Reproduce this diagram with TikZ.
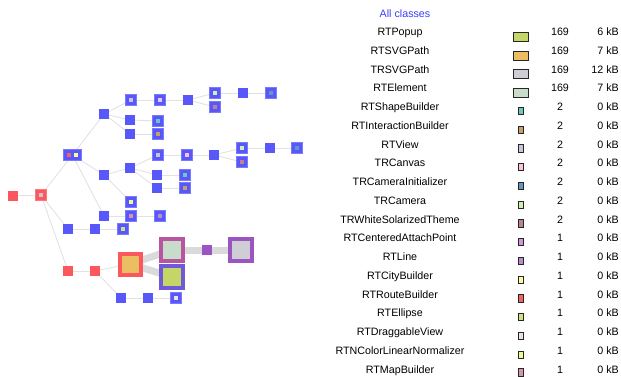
\documentclass[tikz,border=0pt]{standalone}
\usepackage{fontspec}
\setmainfont{Liberation Sans}
\usepackage{tikz}
\usetikzlibrary{backgrounds}
\tikzstyle{cls}=[fill=myblue,minimum size=10pt,inner sep=0pt]
\tikzstyle{rcls}=[cls,fill=myred]
\tikzstyle{big}=[line width=4pt,minimum size=22pt,inner sep=0pt]
\tikzstyle{link}=[draw=mygray,line width=0.9pt]
\tikzstyle{fat}=[draw=mythick,line width=7pt]
\tikzstyle{lbl}=[inner sep=0pt,text height=7.7pt,text depth=0pt,font=\fontsize{10.7}{12}\selectfont]
\tikzstyle{swbig}=[draw=black!85,line width=0.8pt,minimum width=15.5pt,minimum height=9pt,inner sep=0pt]
\tikzstyle{swsmall}=[swbig,minimum width=4.5pt,minimum height=7.5pt]
\tikzset{clsdot/.style={cls,draw=mylight,line width=1pt,minimum size=11pt,
  path picture={\fill[#1] ([shift={(-1.8pt,-1.8pt)}]path picture bounding box.center) rectangle ++(3.6pt,3.6pt);}}}
\definecolor{myblue}{RGB}{88,88,250}
\definecolor{mylight}{RGB}{122,122,252}
\definecolor{myred}{RGB}{250,88,92}
\definecolor{mygray}{RGB}{226,226,226}
\definecolor{mythick}{RGB}{218,218,218}
\definecolor{mytitle}{RGB}{60,60,255}
\definecolor{cPopup}{RGB}{196,214,102}
\definecolor{cRTSVG}{RGB}{236,190,100}
\definecolor{cTRSVG}{RGB}{206,206,212}
\definecolor{cElement}{RGB}{200,220,202}
\definecolor{cShape}{RGB}{110,200,190}
\definecolor{cInter}{RGB}{200,160,105}
\definecolor{cView}{RGB}{205,195,215}
\definecolor{cCanvas}{RGB}{250,195,215}
\definecolor{cInit}{RGB}{100,150,195}
\definecolor{cCam}{RGB}{205,240,180}
\definecolor{cTheme}{RGB}{190,130,145}
\definecolor{cAttach}{RGB}{210,150,220}
\definecolor{cLine}{RGB}{190,140,205}
\definecolor{cCity}{RGB}{250,250,165}
\definecolor{cRoute}{RGB}{240,100,95}
\definecolor{cEllipse}{RGB}{210,222,130}
\definecolor{cDrag}{RGB}{242,222,232}
\definecolor{cNorm}{RGB}{238,250,150}
\definecolor{cMap}{RGB}{210,150,175}
\definecolor{bPink}{RGB}{185,85,160}
\definecolor{bBlue}{RGB}{112,88,215}
\definecolor{bPurple}{RGB}{155,85,195}

\begin{document}
\begin{tikzpicture}[x=1pt,y=-1pt]
\useasboundingbox (0,0) rectangle (621,377);
% tree
\draw (13,196) node [rcls] (r0) {};
\draw (41,195) node [clsdot=cView,fill=myred,draw=myred!80] (r1) {};
\draw (72.5,155) node [cls,draw=mylight,line width=1pt,minimum width=18pt,minimum height=11pt,
  path picture={\fill[cRoute] ([shift={(-5.4pt,-1.8pt)}]path picture bounding box.center) rectangle ++(3.6pt,3.6pt);
                \fill[cCity] ([shift={(1.8pt,-1.8pt)}]path picture bounding box.center) rectangle ++(3.6pt,3.6pt);}] (t0) {};
\draw (104,114) node [cls] (a1) {};
\draw (131,100) node [clsdot=cView] (a2) {};
\draw (130,120) node [cls] (a3) {};
\draw (130,134) node [cls] (a4) {};
\draw (160,100) node [clsdot=cCanvas] (a5) {};
\draw (158,121) node [clsdot=cShape] (a6) {};
\draw (158,134) node [clsdot=cInter] (a7) {};
\draw (188,100) node [cls] (a8) {};
\draw (215,93) node [clsdot=cCam] (a9) {};
\draw (215,107) node [clsdot=cTheme] (a10) {};
\draw (243,93) node [cls] (a11) {};
\draw (271,93) node [clsdot=cInit] (a12) {};
\draw (104,175) node [cls] (b1) {};
\draw (130,168) node [cls] (b2) {};
\draw (131,202) node [clsdot=cNorm] (b3) {};
\draw (158,155) node [clsdot=cView] (b4) {};
\draw (157,175) node [cls] (b5) {};
\draw (157,188) node [cls] (b6) {};
\draw (187,155) node [clsdot=cCanvas] (b7) {};
\draw (185,175) node [clsdot=cShape] (b8) {};
\draw (185,188) node [clsdot=cInter] (b9) {};
\draw (214,155) node [cls] (b10) {};
\draw (242,148) node [clsdot=cCam] (b11) {};
\draw (242,162) node [clsdot=cTheme] (b12) {};
\draw (270,148) node [cls] (b13) {};
\draw (297,148) node [clsdot=cInit] (b14) {};
\draw (104,216) node [cls] (c1) {};
\draw (131,216) node [clsdot=cMap] (c2) {};
\draw (160,216) node [clsdot=cLine] (c3) {};
\draw (68,229) node [cls] (d1) {};
\draw (95,229) node [cls] (d2) {};
\draw (123,229) node [clsdot=cEllipse] (d3) {};
\draw (68,271) node [rcls] (e1) {};
\draw (95,271) node [rcls] (e2) {};
\draw (130,264) node [big,minimum size=21pt,draw=myred,fill=cRTSVG] (e3) {};
\draw (172,250) node [big,draw=bPink,fill=cElement] (e4) {};
\draw (172,277) node [big,draw=bBlue,fill=cPopup] (e5) {};
\draw (207,250) node [cls,fill=bPurple] (e6) {};
\draw (241,250) node [big,draw=bPurple,fill=cTRSVG] (e7) {};
\draw (121,298) node [cls] (f1) {};
\draw (148,298) node [cls] (f2) {};
\draw (176,298) node [clsdot=cDrag] (f3) {};
\begin{pgfonlayer}{background}
\draw[link] (r0) -- (r1);
\draw[link] (r1.center) -- (t0.center);
\draw[link] (r1.center) -- (d1.center);
\draw[link] (r1.center) -- (e1.center);
\draw[link] (t0.center) -- (a1.center);
\draw[link] (t0.center) -- (b1.center);
\draw[link] (t0.center) -- (c1.center);
\draw[link] (a1.center) -- (a2.center);
\draw[link] (a1.center) -- (a3.center);
\draw[link] (a1.center) -- (a4.center);
\draw[link] (a2.center) -- (a5.center);
\draw[link] (a3.center) -- (a6.center);
\draw[link] (a4.center) -- (a7.center);
\draw[link] (a5.center) -- (a8.center);
\draw[link] (a8.center) -- (a9.center);
\draw[link] (a8.center) -- (a10.center);
\draw[link] (a9.center) -- (a11.center);
\draw[link] (a11.center) -- (a12.center);
\draw[link] (b1.center) -- (b2.center);
\draw[link] (b1.center) -- (b3.center);
\draw[link] (b2.center) -- (b4.center);
\draw[link] (b2.center) -- (b5.center);
\draw[link] (b2.center) -- (b6.center);
\draw[link] (b4.center) -- (b7.center);
\draw[link] (b5.center) -- (b8.center);
\draw[link] (b6.center) -- (b9.center);
\draw[link] (b7.center) -- (b10.center);
\draw[link] (b10.center) -- (b11.center);
\draw[link] (b10.center) -- (b12.center);
\draw[link] (b11.center) -- (b13.center);
\draw[link] (b13.center) -- (b14.center);
\draw[link] (c1.center) -- (c2.center);
\draw[link] (c2.center) -- (c3.center);
\draw[link] (d1.center) -- (d2.center);
\draw[link] (d2.center) -- (d3.center);
\draw[link] (e1.center) -- (e2.center);
\draw[link] (e2.center) -- (e3.center);
\draw[link] (e2.center) -- (f1.center);
\draw[link] (f1.center) -- (f2.center);
\draw[link] (f2.center) -- (f3.center);
\draw[fat] (e3.center) -- (e4.center);
\draw[fat] (e3.center) -- (e5.center);
\draw[fat] (e4.center) -- (e6.center);
\draw[fat] (e6.center) -- (e7.center);
\end{pgfonlayer}
% legend
\draw (405,14) node [lbl,text=mytitle] (all) {All classes};
\draw (400,32) node [lbl] (n1) {RTPopup} (521,36.5) node [swbig,fill=cPopup] (s1) {} (560,32) node [lbl] (k1) {169} (619,32) node [lbl,anchor=east] (m1) {6 kB};
\draw (400,51) node [lbl] (n2) {RTSVGPath} (521,55.5) node [swbig,fill=cRTSVG] (s2) {} (560,51) node [lbl] (k2) {169} (619,51) node [lbl,anchor=east] (m2) {7 kB};
\draw (400,69.5) node [lbl] (n3) {TRSVGPath} (521,74) node [swbig,fill=cTRSVG] (s3) {} (560,69.5) node [lbl] (k3) {169} (619,69.5) node [lbl,anchor=east] (m3) {12 kB};
\draw (400,88) node [lbl] (n4) {RTElement} (521,92.5) node [swbig,fill=cElement] (s4) {} (560,88) node [lbl] (k4) {169} (619,88) node [lbl,anchor=east] (m4) {7 kB};
\draw (400,107) node [lbl] (n5) {RTShapeBuilder} (521,111) node [swsmall,fill=cShape] (s5) {} (560,107) node [lbl] (k5) {2} (619,107) node [lbl,anchor=east] (m5) {0 kB};
\draw (400,126) node [lbl] (n6) {RTInteractionBuilder} (521,130) node [swsmall,fill=cInter] (s6) {} (560,126) node [lbl] (k6) {2} (619,126) node [lbl,anchor=east] (m6) {0 kB};
\draw (400,144.5) node [lbl] (n7) {RTView} (521,148.5) node [swsmall,fill=cView] (s7) {} (560,144.5) node [lbl] (k7) {2} (619,144.5) node [lbl,anchor=east] (m7) {0 kB};
\draw (400,163) node [lbl] (n8) {TRCanvas} (521,167) node [swsmall,fill=cCanvas] (s8) {} (560,163) node [lbl] (k8) {2} (619,163) node [lbl,anchor=east] (m8) {0 kB};
\draw (400,182) node [lbl] (n9) {TRCameraInitializer} (521,186) node [swsmall,fill=cInit] (s9) {} (560,182) node [lbl] (k9) {2} (619,182) node [lbl,anchor=east] (m9) {0 kB};
\draw (400,201) node [lbl] (n10) {TRCamera} (521,205) node [swsmall,fill=cCam] (s10) {} (560,201) node [lbl] (k10) {2} (619,201) node [lbl,anchor=east] (m10) {0 kB};
\draw (400,219.5) node [lbl] (n11) {TRWhiteSolarizedTheme} (521,223.5) node [swsmall,fill=cTheme] (s11) {} (560,219.5) node [lbl] (k11) {2} (619,219.5) node [lbl,anchor=east] (m11) {0 kB};
\draw (400,238) node [lbl] (n12) {RTCenteredAttachPoint} (521,242) node [swsmall,fill=cAttach] (s12) {} (560,238) node [lbl] (k12) {1} (619,238) node [lbl,anchor=east] (m12) {0 kB};
\draw (400,257) node [lbl] (n13) {RTLine} (521,261) node [swsmall,fill=cLine] (s13) {} (560,257) node [lbl] (k13) {1} (619,257) node [lbl,anchor=east] (m13) {0 kB};
\draw (400,276) node [lbl] (n14) {RTCityBuilder} (521,280) node [swsmall,fill=cCity] (s14) {} (560,276) node [lbl] (k14) {1} (619,276) node [lbl,anchor=east] (m14) {0 kB};
\draw (400,294.5) node [lbl] (n15) {RTRouteBuilder} (521,298.5) node [swsmall,fill=cRoute] (s15) {} (560,294.5) node [lbl] (k15) {1} (619,294.5) node [lbl,anchor=east] (m15) {0 kB};
\draw (400,313) node [lbl] (n16) {RTEllipse} (521,317) node [swsmall,fill=cEllipse] (s16) {} (560,313) node [lbl] (k16) {1} (619,313) node [lbl,anchor=east] (m16) {0 kB};
\draw (400,332) node [lbl] (n17) {RTDraggableView} (521,336) node [swsmall,fill=cDrag] (s17) {} (560,332) node [lbl] (k17) {1} (619,332) node [lbl,anchor=east] (m17) {0 kB};
\draw (400,351) node [lbl] (n18) {RTNColorLinearNormalizer} (521,355) node [swsmall,fill=cNorm] (s18) {} (560,351) node [lbl] (k18) {1} (619,351) node [lbl,anchor=east] (m18) {0 kB};
\draw (400,369.5) node [lbl] (n19) {RTMapBuilder} (521,372.5) node [swsmall,fill=cMap] (s19) {} (560,369.5) node [lbl] (k19) {1} (619,369.5) node [lbl,anchor=east] (m19) {0 kB};
\end{tikzpicture}
\end{document}
